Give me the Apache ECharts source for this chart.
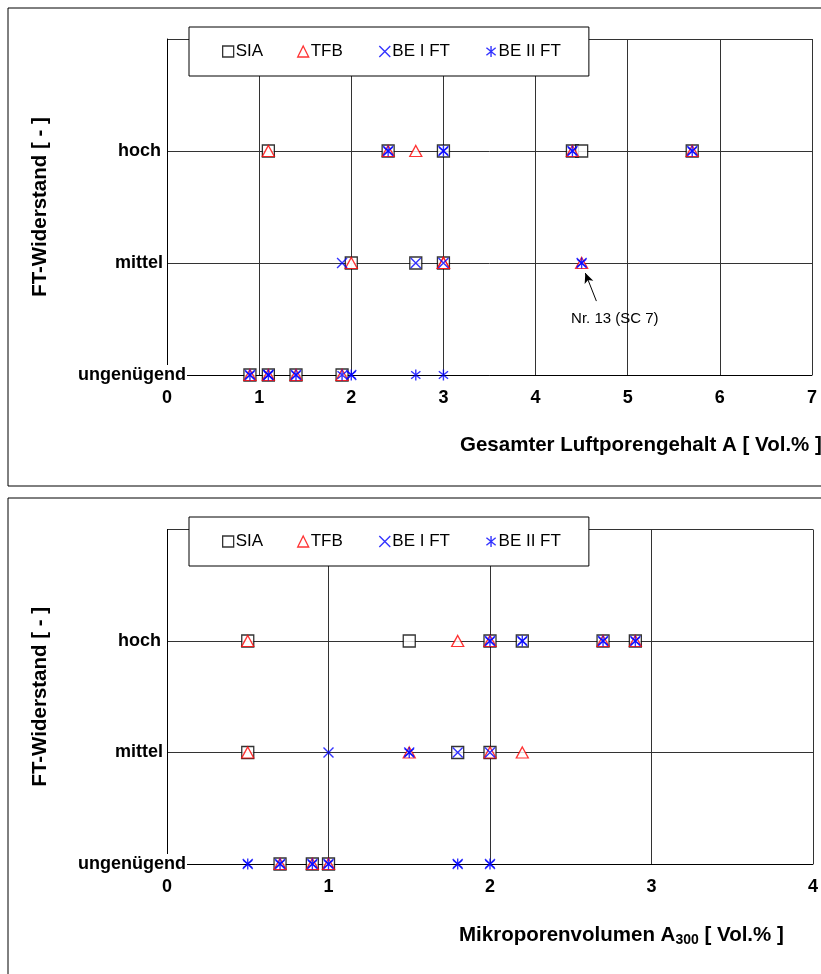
<!DOCTYPE html>
<html>
<head>
<meta charset="utf-8">
<script src="https://cdn.jsdelivr.net/npm/echarts@6/dist/echarts.min.js"></script>
<style>
  html, body { margin: 0; padding: 0; background: #fff; }
  #chart { width: 821px; height: 974px; }
</style>
</head>
<body>
<div id="chart"></div>
<script>
// Frost resistance classes (y positions 0, 1, 2 on the value axis)
const levels = ['ungenügend', 'mittel', 'hoch'];
const seriesNames = ['SIA', 'TFB', 'BE I FT', 'BE II FT'];

// Panel 1: total air content A [Vol.%] per classification
const luftSIA = [[1.1,'hoch'],[2.4,'hoch'],[3.0,'hoch'],[4.4,'hoch'],[4.5,'hoch'],[5.7,'hoch'],
                 [2.0,'mittel'],[2.7,'mittel'],[3.0,'mittel'],
                 [0.9,'ungenügend'],[1.1,'ungenügend'],[1.4,'ungenügend'],[1.9,'ungenügend']];
const luftTFB = [[1.1,'hoch'],[2.4,'hoch'],[2.7,'hoch'],[4.4,'hoch'],[5.7,'hoch'],
                 [2.0,'mittel'],[3.0,'mittel'],[3.0,'mittel'],[4.5,'mittel'],
                 [0.9,'ungenügend'],[1.1,'ungenügend'],[1.4,'ungenügend'],[1.9,'ungenügend']];
const luftBE1 = [[2.4,'hoch'],[3.0,'hoch'],[4.4,'hoch'],[5.7,'hoch'],
                 [1.9,'mittel'],[2.7,'mittel'],[3.0,'mittel'],[4.5,'mittel'],
                 [0.9,'ungenügend'],[1.1,'ungenügend'],[1.1,'ungenügend'],[1.4,'ungenügend'],[2.0,'ungenügend']];
const luftBE2 = [[2.4,'hoch'],[3.0,'hoch'],[4.4,'hoch'],[5.7,'hoch'],
                 [4.5,'mittel'],
                 [0.9,'ungenügend'],[1.1,'ungenügend'],[1.4,'ungenügend'],[1.9,'ungenügend'],
                 [2.0,'ungenügend'],[2.7,'ungenügend'],[3.0,'ungenügend']];

// Panel 2: micro pore volume A300 [Vol.%] per classification
const mikroSIA = [[0.5,'hoch'],[1.5,'hoch'],[2.0,'hoch'],[2.2,'hoch'],[2.7,'hoch'],[2.9,'hoch'],
                  [0.5,'mittel'],[1.8,'mittel'],[2.0,'mittel'],
                  [0.7,'ungenügend'],[0.9,'ungenügend'],[1.0,'ungenügend']];
const mikroTFB = [[0.5,'hoch'],[1.8,'hoch'],[2.0,'hoch'],[2.7,'hoch'],[2.9,'hoch'],
                  [0.5,'mittel'],[1.5,'mittel'],[2.0,'mittel'],[2.2,'mittel'],
                  [0.7,'ungenügend'],[0.9,'ungenügend'],[1.0,'ungenügend']];
const mikroBE1 = [[2.0,'hoch'],[2.2,'hoch'],[2.7,'hoch'],[2.9,'hoch'],
                  [1.0,'mittel'],[1.5,'mittel'],[1.8,'mittel'],[2.0,'mittel'],
                  [0.5,'ungenügend'],[0.7,'ungenügend'],[0.9,'ungenügend'],[1.0,'ungenügend'],
                  [1.8,'ungenügend'],[2.0,'ungenügend']];
const mikroBE2 = [[2.0,'hoch'],[2.2,'hoch'],[2.7,'hoch'],[2.9,'hoch'],
                  [1.5,'mittel'],
                  [0.5,'ungenügend'],[0.7,'ungenügend'],[0.9,'ungenügend'],[1.0,'ungenügend'],
                  [1.8,'ungenügend'],[2.0,'ungenügend']];

// Highlighted sample (Nr. 13, SC 7)
const nr13 = [4.5, 'mittel'];
const nr13Label = 'Nr. 13 (SC 7)';

const xMaxLuft = 7;
const xMaxMikro = 4;

const FONT = 'Liberation Sans, Arial, sans-serif';
const gridColor = '#333';
const LABEL_SIZE = 18;
const TITLE_SIZE = 20.5;

const toPts = pairs => pairs.map(([x, lvl]) => [x, levels.indexOf(lvl)]);

const markerStyles = {
  'SIA':      { symbol: 'rect', symbolSize: 12,
                itemStyle: { color: '#fff', borderColor: '#000', borderWidth: 1.3 } },
  'TFB':      { symbol: 'triangle', symbolSize: [12, 11],
                itemStyle: { color: '#fff', borderColor: '#ff0000', borderWidth: 1.3 } },
  'BE I FT':  { symbol: 'path://M0,0L10,10M10,0L0,10', symbolSize: 10,
                itemStyle: { color: 'none', borderColor: '#0000ff', borderWidth: 1.4 } },
  'BE II FT': { symbol: 'path://M5,0L5,10M0.8,1.6L9.2,8.4M9.2,1.6L0.8,8.4', symbolSize: 11,
                symbolKeepAspect: true,
                itemStyle: { color: 'none', borderColor: '#0000ff', borderWidth: 1.4 } }
};

function makeSeries(name, pairs, gridIdx, extra) {
  const m = markerStyles[name];
  return Object.assign({
    name: name,
    type: 'scatter',
    xAxisIndex: gridIdx,
    yAxisIndex: gridIdx,
    symbol: m.symbol,
    symbolSize: m.symbolSize,
    symbolKeepAspect: !!m.symbolKeepAspect,
    itemStyle: m.itemStyle,
    emphasis: { disabled: true },
    silent: true,
    data: toPts(pairs)
  }, extra || {});
}

function yAxisFor(gridIdx) {
  const bold = { fontFamily: FONT, fontWeight: 'bold', fontSize: LABEL_SIZE, color: '#000' };
  return {
    type: 'value', gridIndex: gridIdx, min: 0, max: 3, interval: 1,
    axisLine: { show: true, lineStyle: { color: '#000', width: 1 } },
    axisTick: { show: false },
    splitLine: { show: true, lineStyle: { color: gridColor, width: 1 } },
    axisLabel: {
      margin: -20,
      formatter: v => {
        if (v === 0) return '{u|' + levels[0] + '}';
        if (v === 1) return '{m|' + levels[1] + '}';
        if (v === 2) return '{h|' + levels[2] + '}';
        return '';
      },
      rich: {
        u: Object.assign({ backgroundColor: '#fff', padding: [1, 1, 1, 0] }, bold),
        m: Object.assign({ padding: [0, 24, 0, 0] }, bold),
        h: Object.assign({ padding: [0, 26, 0, 0] }, bold)
      }
    },
    name: 'FT-Widerstand [ - ]',
    nameLocation: 'middle',
    nameGap: 116,
    nameTextStyle: { fontFamily: FONT, fontWeight: 'bold', fontSize: TITLE_SIZE, color: '#000' }
  };
}

function xAxisFor(gridIdx, max) {
  return {
    type: 'value', gridIndex: gridIdx, min: 0, max: max, interval: 1,
    axisLine: { show: true, onZero: false, lineStyle: { color: '#000', width: 1 } },
    axisTick: { show: false },
    splitLine: { show: true, lineStyle: { color: gridColor, width: 1 } },
    axisLabel: { margin: 14, fontFamily: FONT, fontWeight: 'bold', fontSize: LABEL_SIZE, color: '#000',
                 showMinLabel: true, showMaxLabel: true }
  };
}

function legendFor(top) {
  return {
    left: 189, top: top,
    orient: 'horizontal',
    backgroundColor: '#fff',
    borderColor: '#000', borderWidth: 1,
    padding: [16, 28, 16, 33],
    itemGap: 34,
    itemWidth: 11, itemHeight: 11,
    selectedMode: false,
    textStyle: { fontFamily: FONT, fontSize: 17, color: '#000', padding: [0, 0, 0, -3] },
    data: seriesNames.map(n => ({
      name: n,
      icon: markerStyles[n].symbol,
      itemStyle: markerStyles[n].itemStyle
    }))
  };
}

const nr13Pt = [nr13[0], levels.indexOf(nr13[1])];

const option = {
  animation: false,
  backgroundColor: '#fff',
  grid: [
    { left: 167, top: 39, width: 645, height: 336 },
    { left: 167, top: 529.5, width: 646, height: 334.5 }
  ],
  xAxis: [xAxisFor(0, xMaxLuft), xAxisFor(1, xMaxMikro)],
  yAxis: [yAxisFor(0), yAxisFor(1)],
  legend: [legendFor(27), legendFor(517)],
  title: [
    { text: 'Gesamter Luftporengehalt A [ Vol.% ]', left: 455, top: 430,
      textStyle: { fontFamily: FONT, fontWeight: 'bold', fontSize: TITLE_SIZE, color: '#000' } },
    { text: 'Mikroporenvolumen A{sub|300} [ Vol.% ]', left: 454, top: 919,
      textStyle: { fontFamily: FONT, fontWeight: 'bold', fontSize: TITLE_SIZE, color: '#000',
        rich: { sub: { fontFamily: FONT, fontWeight: 'bold', fontSize: 14, color: '#000', verticalAlign: 'bottom', padding: [9, 0, 0, 0] } } } }
  ],
  graphic: [
    { type: 'rect', shape: { x: 8, y: 8, width: 830, height: 478 },
      style: { fill: 'none', stroke: '#000', lineWidth: 1 }, silent: true, z: -1 },
    { type: 'rect', shape: { x: 8, y: 498, width: 830, height: 490 },
      style: { fill: 'none', stroke: '#000', lineWidth: 1 }, silent: true, z: -1 }
  ],
  series: [
    makeSeries('SIA', luftSIA, 0),
    makeSeries('TFB', luftTFB, 0),
    makeSeries('BE I FT', luftBE1, 0),
    makeSeries('BE II FT', luftBE2, 0, {
      markLine: {
        silent: true,
        symbol: ['none', 'arrow'],
        symbolSize: [7, 10],
        lineStyle: { color: '#000', width: 1, type: 'solid' },
        label: { show: false },
        data: [[
          { coord: [nr13Pt[0] + 0.16, nr13Pt[1] - 0.34] },
          { coord: [nr13Pt[0] + 0.04, nr13Pt[1] - 0.09] }
        ]]
      },
      markPoint: {
        silent: true,
        symbol: 'circle', symbolSize: 0,
        data: [{ coord: [nr13Pt[0] + 0.36, nr13Pt[1] - 0.5] }],
        label: { show: true, position: 'inside', formatter: nr13Label,
                 fontFamily: FONT, fontSize: 15, color: '#000' }
      }
    }),
    makeSeries('SIA', mikroSIA, 1),
    makeSeries('TFB', mikroTFB, 1),
    makeSeries('BE I FT', mikroBE1, 1),
    makeSeries('BE II FT', mikroBE2, 1)
  ]
};

const chart = echarts.init(document.getElementById('chart'), null, { renderer: 'canvas' });
chart.setOption(option);
</script>
</body>
</html>
